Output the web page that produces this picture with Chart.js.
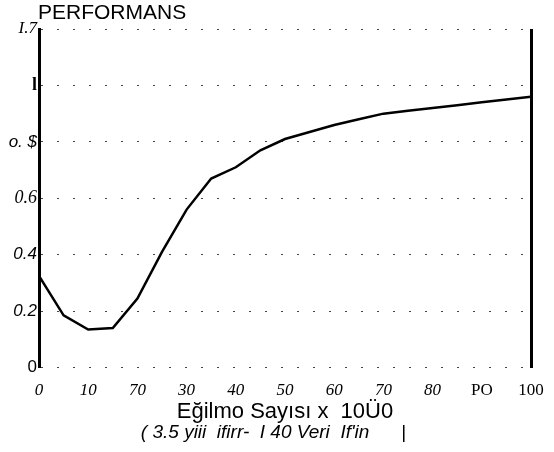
<!DOCTYPE html>
<html>
<head>
<meta charset="utf-8">
<script src="https://cdn.jsdelivr.net/npm/chart.js@4/dist/chart.umd.min.js"></script>
<style>
  html, body { margin: 0; padding: 0; background: #fff; }
  #wrap { width: 554px; height: 452px; }
</style>
</head>
<body>
<div id="wrap"><canvas id="c"></canvas></div>
<script>
// values
const egilmeSayisi = [0, 5, 10, 15, 20, 25, 30, 35, 40, 45, 50, 55, 60, 65, 70, 75, 80, 85, 90, 95, 100];
const performans = [0.325, 0.185, 0.135, 0.14, 0.245, 0.41, 0.56, 0.67, 0.71, 0.77, 0.81, 0.835, 0.86, 0.88, 0.9, 0.91, 0.92, 0.93, 0.94, 0.95, 0.96];

// tick labels as printed in the picture
const xTickLabels = ['0', '10', '70', '30', '40', '50', '60', '70', '80', 'PO', '100'];
const yTickLabels = ['0', '0.2', '0.4', '0.6', 'o. $', 'l', 'I.7'];

const chartTitle = 'PERFORMANS';
const xTitle = 'Eğilmo Sayısı x  10Ü0';
const xSubtitle = "\u00a0\u00a0\u00a0( 3.5 yiii  ifirr-  I 40 Veri  If'in      |";

const titleText = {
  id: 'titleText',
  afterDraw(chart) {
    const ctx = chart.ctx;
    ctx.save();
    ctx.font = '21px "Liberation Sans", Arial, sans-serif';
    ctx.fillStyle = '#000';
    ctx.textBaseline = 'middle';
    ctx.fillText(chartTitle, chart.chartArea.left - 1, 13);
    ctx.restore();
  }
};

new Chart(document.getElementById('c'), {
  type: 'line',
  data: {
    datasets: [{
      data: egilmeSayisi.map((x, i) => ({x: x, y: performans[i]})),
      borderColor: '#000',
      borderWidth: 2.5,
      pointRadius: 0,
      tension: 0,
      fill: false
    }]
  },
  options: {
    responsive: true,
    maintainAspectRatio: false,
    animation: false,
    layout: {padding: {top: 29, right: 23, bottom: 10, left: 0}},
    plugins: {
      legend: {display: false},
      tooltip: {enabled: false},
      subtitle: {
        display: true,
        position: 'bottom',
        text: xSubtitle,
        color: '#000',
        font: {family: '"Liberation Sans", Arial, sans-serif', size: 19, style: 'italic', lineHeight: 1},
        padding: {top: 0, bottom: 0}
      }
    },
    scales: {
      x: {
        type: 'linear',
        min: 0,
        max: 100,
        border: {display: false},
        grid: {
          drawTicks: true,
          tickLength: 13,
          tickColor: 'rgba(0,0,0,0)',
          color: ctx => ctx.tick && ctx.tick.value === 100 ? '#000' : 'rgba(0,0,0,0)',
          lineWidth: 3
        },
        ticks: {
          stepSize: 10,
          padding: 0,
          color: '#000',
          maxRotation: 0,
          callback: v => xTickLabels[Math.round(v / 10)],
          font: ctx => ({
            family: '"Liberation Serif", "Times New Roman", serif',
            size: 17,
            style: ctx.index >= 9 ? 'normal' : 'italic'
          })
        },
        title: {
          display: true,
          text: xTitle,
          color: '#000',
          font: {family: '"Liberation Sans", Arial, sans-serif', size: 22, lineHeight: 1},
          padding: {top: 0, bottom: 0}
        }
      },
      y: {
        min: 0,
        max: 1.2,
        afterFit: s => { s.width = 39; },
        border: {display: true, color: '#000', width: 3, dash: [2, 14]},
        grid: {color: '#444', lineWidth: 1, drawTicks: false},
        ticks: {
          stepSize: 0.2,
          padding: 2,
          color: '#000',
          callback: v => yTickLabels[Math.round(v / 0.2)],
          font: ctx => {
            const i = ctx.index;
            if (i === 0) return {family: '"Liberation Sans", Arial, sans-serif', size: 17};
            if (i === 1 || i === 2 || i === 4) return {family: '"Liberation Sans", Arial, sans-serif', size: 17, style: 'italic'};
            if (i === 5) return {family: '"Liberation Serif", serif', size: 18, weight: 'bold'};
            if (i === 6) return {family: '"Liberation Serif", serif', size: 17, style: 'italic'};
            return {family: '"Liberation Serif", serif', size: 18, style: 'italic'};
          }
        }
      }
    }
  },
  plugins: [titleText]
});
</script>
</body>
</html>
